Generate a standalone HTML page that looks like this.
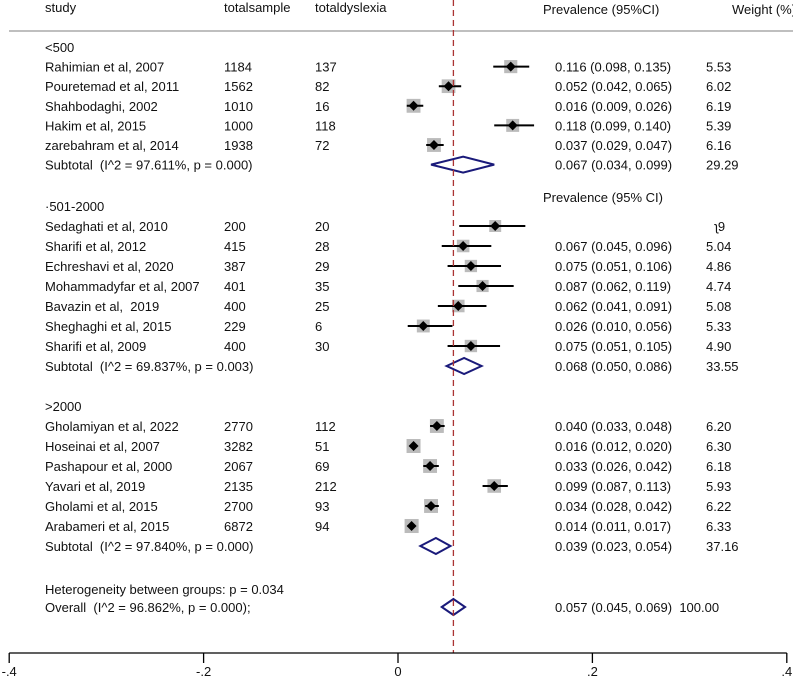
<!DOCTYPE html>
<html><head><meta charset="utf-8">
<style>
body{margin:0;background:#fff;}
svg{display:block;font-family:"Liberation Sans",Arial,sans-serif;font-size:13px;}
text{white-space:pre;}
</style></head>
<body>
<svg id="chart" width="793" height="679" viewBox="0 0 793 679" xmlns="http://www.w3.org/2000/svg" xml:space="preserve">
<g id="layer"></g>
</svg>
<script>
const groupNames = ["<500", "·501-2000", ">2000"];
const studies = ["Rahimian et al, 2007","Pouretemad et al, 2011","Shahbodaghi, 2002","Hakim et al, 2015","zarebahram et al, 2014",
"Sedaghati et al, 2010","Sharifi et al, 2012","Echreshavi et al, 2020","Mohammadyfar et al, 2007","Bavazin et al,  2019","Sheghaghi et al, 2015","Sharifi et al, 2009",
"Gholamiyan et al, 2022","Hoseinai et al, 2007","Pashapour et al, 2000","Yavari et al, 2019","Gholami et al, 2015","Arabameri et al, 2015"];
const studyGroup = [0,0,0,0,0,1,1,1,1,1,1,1,2,2,2,2,2,2];
const totalSample = ["1184","1562","1010","1000","1938","200","415","387","401","400","229","400","2770","3282","2067","2135","2700","6872"];
const totalDyslexia = ["137","82","16","118","72","20","28","29","35","25","6","30","112","51","69","212","93","94"];
const est = [0.116,0.052,0.016,0.118,0.037,0.100,0.067,0.075,0.087,0.062,0.026,0.075,0.040,0.016,0.033,0.099,0.034,0.014];
const lo  = [0.098,0.042,0.009,0.099,0.029,0.063,0.045,0.051,0.062,0.041,0.010,0.051,0.033,0.012,0.026,0.087,0.028,0.011];
const hi  = [0.135,0.065,0.026,0.140,0.047,0.131,0.096,0.106,0.119,0.091,0.056,0.105,0.048,0.020,0.042,0.113,0.042,0.017];
const weight = [5.53,6.02,6.19,5.39,6.16,4.59,5.04,4.86,4.74,5.08,5.33,4.90,6.20,6.30,6.18,5.93,6.22,6.33];
const subLabel = ["Subtotal  (I^2 = 97.611%, p = 0.000)","Subtotal  (I^2 = 69.837%, p = 0.003)","Subtotal  (I^2 = 97.840%, p = 0.000)"];
const subEst = [0.067,0.068,0.039];
const subLo = [0.034,0.050,0.023];
const subHi = [0.099,0.086,0.054];
const subW = ["29.29","33.55","37.16"];
const overall = [0.057,0.045,0.069];
const ticks = [-0.4,-0.2,0,0.2,0.4];
const tickLabels = ["-.4","-.2","0",".2",".4"];

const NS="http://www.w3.org/2000/svg";
const L=document.getElementById('layer');
const X=v=>398+v*972;
function mk(tag,attrs,txt){const e=document.createElementNS(NS,tag);for(const k in attrs)e.setAttribute(k,attrs[k]);if(txt!==undefined)e.textContent=txt;L.appendChild(e);return e;}
function txt(x,y,s,name,anchor){const e=mk('text',{x:x,y:y,fill:'#111','text-anchor':anchor||'start'},s);

return e;}
const f=v=>v.toFixed(3);

txt(45,12,"study","header-study");
txt(224,12,"totalsample","header-totalsample");
txt(315,12,"totaldyslexia","header-totaldyslexia");
txt(543,14,"Prevalence (95%CI)","header-prevalence");
txt(732,14,"Weight (%)","header-weight");
let hl=mk('line',{x1:9,y1:31,x2:793,y2:31,stroke:'#999','stroke-width':1.2});



const groupStart=[47,206,406];
const sp=[19.6,20,20];
let rowIdx=[0,0,0];
for(let g=0;g<3;g++) txt(45,groupStart[g]+5,groupNames[g],"group-label");
for(let i=0;i<studies.length;i++){
  const g=studyGroup[i]; rowIdx[g]++;
  const y=groupStart[g]+rowIdx[g]*sp[g];
  txt(45,y+5,studies[i],"study-name");
  txt(224,y+5,totalSample[i],"total-sample");
  txt(315,y+5,totalDyslexia[i],"total-dyslexia");
  if(i!==5){
    txt(555,y+5,f(est[i])+" ("+f(lo[i])+", "+f(hi[i])+")","effect-ci-text");
    txt(706,y+5,weight[i].toFixed(2),"weight-text");
  } else {
    txt(715,y+5,"\u0285"+"9","weight-text-fragment");
  }
  const s=Math.sqrt(weight[i]/6.3)*14;
  let r=mk('rect',{x:X(est[i])-s/2,y:y-s/2,width:s,height:s,fill:'#bbb'});
  
  
  let l=mk('line',{x1:X(lo[i]),y1:y,x2:X(hi[i]),y2:y,stroke:'#000','stroke-width':2});
  
  
  const cx=X(est[i]);
  let d=mk('polygon',{points:`${cx-5},${y} ${cx},${y-5} ${cx+5},${y} ${cx},${y+5}`,fill:'#000'});
  
  
}
for(let g=0;g<3;g++){
  const y=groupStart[g]+(rowIdx[g]+1)*sp[g];
  txt(45,y+5,subLabel[g],"subtotal-label");
  txt(555,y+5,f(subEst[g])+" ("+f(subLo[g])+", "+f(subHi[g])+")","subtotal-ci-text");
  txt(706,y+5,subW[g],"subtotal-weight");
  let d=mk('polygon',{points:`${X(subLo[g])},${y} ${X(subEst[g])},${y-8} ${X(subHi[g])},${y} ${X(subEst[g])},${y+8}`,fill:'none',stroke:'#1a1a7a','stroke-width':2});
  
  
}
txt(543,202,"Prevalence (95% CI)","repeated-prevalence-header");
txt(45,594,"Heterogeneity between groups: p = 0.034","heterogeneity-text");
txt(45,612,"Overall  (I^2 = 96.862%, p = 0.000);","overall-label");
txt(555,612,f(overall[0])+" ("+f(overall[1])+", "+f(overall[2])+")  100.00","overall-ci-text");
let od=mk('polygon',{points:`${X(overall[1])},607 ${X(overall[0])},599 ${X(overall[2])},607 ${X(overall[0])},615`,fill:'none',stroke:'#1a1a7a','stroke-width':2});



let ref=mk('line',{x1:X(overall[0]),y1:0,x2:X(overall[0]),y2:653,stroke:'#a33','stroke-width':1.3,'stroke-dasharray':'6,4'});



let ax=mk('line',{x1:X(-0.4),y1:653,x2:X(0.4),y2:653,stroke:'#000','stroke-width':1.3});


ticks.forEach((t,i)=>{
  let tk=mk('line',{x1:X(t),y1:653,x2:X(t),y2:663,stroke:'#000','stroke-width':1.3});
  
  
  txt(X(t),676,tickLabels[i],"x-tick-label","middle");
});
</script>
</body></html>
